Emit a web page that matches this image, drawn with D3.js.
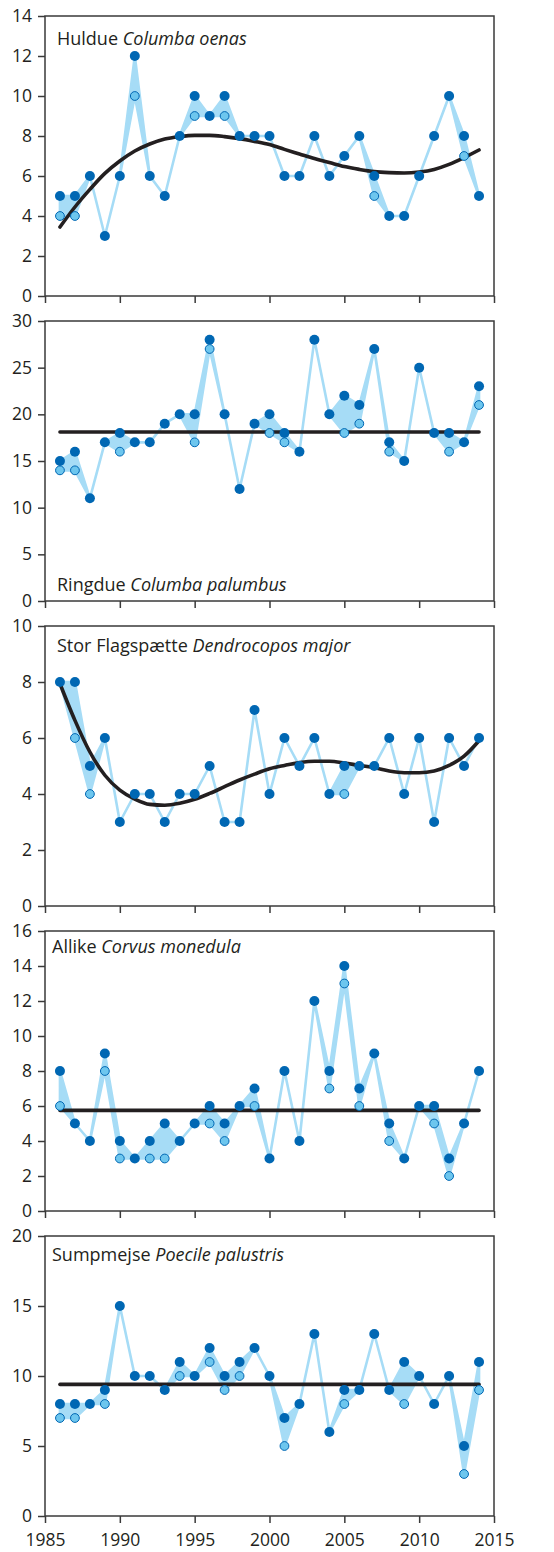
<!DOCTYPE html>
<html>
<head>
<meta charset="utf-8">
<script src="https://cdn.jsdelivr.net/npm/d3@7"></script>
<style>
  body { margin: 0; background: #fff; }
  svg text { font-family: "Open Sans", "Noto Sans", sans-serif; fill: #231f20; }
</style>
</head>
<body>
<div id="chart"></div>
<script>
// year axis shared by all five panels
const years = d3.range(1986, 2015);
const xTicks = [1985, 1990, 1995, 2000, 2005, 2010, 2015];

// Huldue
const huldueHigh = [5, 5, 6, 3, 6, 12, 6, 5, 8, 10, 9, 10, 8, 8, 8, 6, 6, 8, 6, 7, 8, 6, 4, 4, 6, 8, 10, 8, 5];
const huldueLow  = [4, 4, null, null, null, 10, null, null, null, 9, null, 9, null, null, null, null, null, null, null, null, null, 5, null, null, null, null, null, 7, null];
const huldueTrend = [3.45, 4.45, 5.33, 6.13, 6.75, 7.25, 7.6, 7.85, 7.97, 8.03, 8.03, 7.97, 7.87, 7.73, 7.57, 7.33, 7.1, 6.87, 6.67, 6.47, 6.33, 6.22, 6.17, 6.15, 6.2, 6.33, 6.58, 6.92, 7.3];

// Ringdue
const ringdueHigh = [15, 16, 11, 17, 18, 17, 17, 19, 20, 20, 28, 20, 12, 19, 20, 18, 16, 28, 20, 22, 21, 27, 17, 15, 25, 18, 18, 17, 23];
const ringdueLow  = [14, 14, null, null, 16, null, null, null, null, 17, 27, null, null, null, 18, 17, null, null, null, 18, 19, null, 16, null, null, null, 16, null, 21];
const ringdueTrend = years.map(() => 18.1);

// Stor Flagspætte
const flagHigh = [8, 8, 5, 6, 3, 4, 4, 3, 4, 4, 5, 3, 3, 7, 4, 6, 5, 6, 4, 5, 5, 5, 6, 4, 6, 3, 6, 5, 6];
const flagLow  = [null, 6, 4, null, null, null, null, null, null, null, null, null, null, null, null, null, null, null, null, 4, null, null, null, null, null, null, null, null, null];
const flagTrend = [7.94, 6.63, 5.5, 4.67, 4.14, 3.82, 3.63, 3.6, 3.67, 3.81, 4.02, 4.26, 4.5, 4.71, 4.9, 5.02, 5.12, 5.17, 5.17, 5.11, 5.02, 4.94, 4.82, 4.76, 4.76, 4.82, 5.02, 5.35, 5.9];

// Allike
const allikeHigh = [8, 5, 4, 9, 4, 3, 4, 5, 4, 5, 6, 5, 6, 7, 3, 8, 4, 12, 8, 14, 7, 9, 5, 3, 6, 6, 3, 5, 8];
const allikeLow  = [6, null, null, 8, 3, null, 3, 3, null, null, 5, 4, null, 6, null, null, null, null, 7, 13, 6, null, 4, null, null, 5, 2, null, null];
const allikeTrend = years.map(() => 5.75);

// Sumpmejse
const sumpHigh = [8, 8, 8, 9, 15, 10, 10, 9, 11, 10, 12, 10, 11, 12, 10, 7, 8, 13, 6, 9, 9, 13, 9, 11, 10, 8, 10, 5, 11];
const sumpLow  = [7, 7, null, 8, null, null, null, null, 10, null, 11, 9, 10, null, null, 5, null, null, null, 8, null, null, null, 8, null, null, null, 3, 9];
const sumpTrend = years.map(() => 9.4);

const panels = [
  { name: 'Huldue', latin: 'Columba oenas', max: 14, step: 2, high: huldueHigh, low: huldueLow, trend: huldueTrend, lx: 57, ly: 29 },
  { name: 'Ringdue', latin: 'Columba palumbus', max: 30, step: 5, high: ringdueHigh, low: ringdueLow, trend: ringdueTrend, lx: 57, ly: 270 },
  { name: 'Stor Flagspætte', latin: 'Dendrocopos major', max: 10, step: 2, high: flagHigh, low: flagLow, trend: flagTrend, lx: 57, ly: 26 },
  { name: 'Allike', latin: 'Corvus monedula', max: 16, step: 2, high: allikeHigh, low: allikeLow, trend: allikeTrend, lx: 52, ly: 22 },
  { name: 'Sumpmejse', latin: 'Poecile palustris', max: 20, step: 5, high: sumpHigh, low: sumpLow, trend: sumpTrend, lx: 52, ly: 25 }
];

const width = 554, height = 1552;
const left = 45, right = 494;
const panelTop = 16, panelH = 280, panelGap = 25;
const frameColor = '#3a3a3a';
const darkBlue = '#0067b3';
const lightFill = '#a6dcf6';
const lightPoint = '#6dc6ee';

const svg = d3.select('#chart').append('svg')
  .attr('width', width)
  .attr('height', height);

const x = d3.scaleLinear().domain([1985, 2015]).range([left, right]);

panels.forEach((p, i) => {
  const top = panelTop + i * (panelH + panelGap);
  const y = d3.scaleLinear().domain([0, p.max]).range([top + panelH, top]);
  const g = svg.append('g');

  const rows = years.map((yr, k) => ({
    year: yr,
    high: p.high[k],
    low: p.low[k] == null ? p.high[k] : p.low[k],
    light: p.low[k],
    trend: p.trend[k]
  }));

  // band between the two counts
  const band = d3.area()
    .x(d => x(d.year))
    .y0(d => y(d.low))
    .y1(d => y(d.high));
  g.append('path')
    .datum(rows)
    .attr('d', band)
    .attr('fill', lightFill)
    .attr('stroke', lightFill)
    .attr('stroke-width', 2.6)
    .attr('stroke-linejoin', 'round');

  // trend
  const trendLine = d3.line()
    .x(d => x(d.year))
    .y(d => y(d.trend))
    .curve(d3.curveMonotoneX);
  g.append('path')
    .datum(rows)
    .attr('d', trendLine)
    .attr('fill', 'none')
    .attr('stroke', '#231f20')
    .attr('stroke-width', 3.6)
    .attr('stroke-linecap', 'round');

  // points
  g.selectAll('.high')
    .data(rows)
    .enter().append('circle')
    .attr('class', 'high')
    .attr('cx', d => x(d.year))
    .attr('cy', d => y(d.high))
    .attr('r', 5)
    .attr('fill', darkBlue);

  g.selectAll('.light')
    .data(rows.filter(d => d.light != null))
    .enter().append('circle')
    .attr('class', 'light')
    .attr('cx', d => x(d.year))
    .attr('cy', d => y(d.light))
    .attr('r', 4.4)
    .attr('fill', lightPoint)
    .attr('stroke', darkBlue)
    .attr('stroke-width', 1);

  // frame
  g.append('rect')
    .attr('x', left)
    .attr('y', top)
    .attr('width', right - left)
    .attr('height', panelH)
    .attr('fill', 'none')
    .attr('stroke', frameColor)
    .attr('stroke-width', 1.5);

  const yAxis = d3.axisLeft(y)
    .tickValues(d3.range(0, p.max + 0.001, p.step))
    .tickSize(7)
    .tickSizeOuter(0)
    .tickPadding(6);
  const ya = g.append('g').attr('transform', `translate(${left},0)`).call(yAxis);
  ya.select('.domain').remove();
  ya.selectAll('line').attr('stroke', frameColor).attr('stroke-width', 1.5);
  ya.selectAll('text').style('font-size', '17.5px').attr('fill', '#231f20');

  const xAxis = d3.axisBottom(x)
    .tickValues(xTicks)
    .tickFormat(i === panels.length - 1 ? d3.format('d') : () => '')
    .tickSize(7)
    .tickSizeOuter(0)
    .tickPadding(11);
  const xa = g.append('g').attr('transform', `translate(0,${top + panelH})`).call(xAxis);
  xa.select('.domain').remove();
  xa.selectAll('line').attr('stroke', frameColor).attr('stroke-width', 1.5);
  xa.selectAll('text').style('font-size', '17.5px').attr('fill', '#231f20');

  // species label
  const label = g.append('text')
    .attr('x', p.lx)
    .attr('y', top + p.ly)
    .style('font-size', '18px');
  label.append('tspan').text(p.name + ' ');
  label.append('tspan').attr('font-style', 'italic').text(p.latin);
});
</script>
</body>
</html>
